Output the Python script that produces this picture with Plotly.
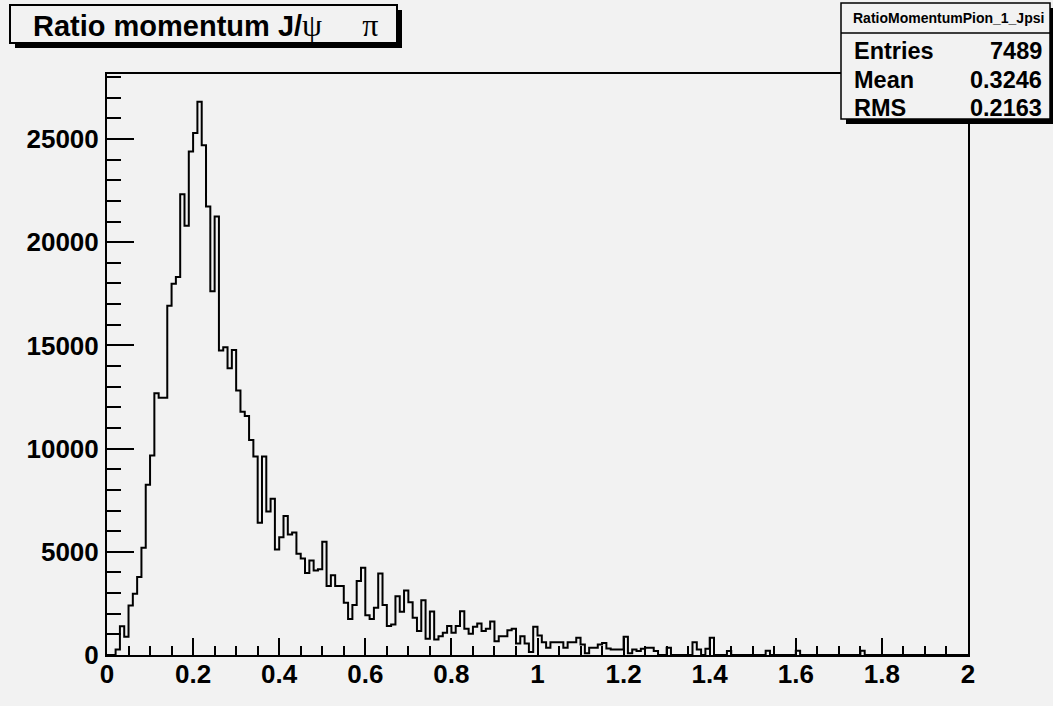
import numpy as np
import plotly.graph_objects as go

# ---------------- data ----------------
x_min = 0.0
x_max = 2.0
n_bins = 200
counts = [
    0, 0, 270, 1390, 890, 2400, 2970, 3780, 5200, 8250,
    9670, 12680, 12470, 12470, 16920, 17990, 18310, 22320, 20800, 24400,
    25290, 26800, 24700, 21730, 17630, 21250, 14750, 14910, 13890, 14780,
    12820, 11790, 11580, 10420, 9620, 6410, 9620, 6950, 7570, 5110,
    5700, 6730, 5840, 5930, 4900, 4670, 3970, 4580, 4100, 4150,
    5490, 3340, 3870, 3340, 3340, 2530, 1750, 2420, 3580, 4230,
    1930, 1750, 2290, 3950, 2420, 1400, 1480, 2850, 2090, 3130,
    2560, 1800, 1160, 2650, 785, 2110, 750, 910, 1075, 1400,
    1075, 1400, 2120, 1270, 1030, 1370, 1530, 1160, 1270, 1620,
    670, 910, 910, 1200, 1270, 560, 910, 560, 150, 1365,
    945, 620, 350, 620, 620, 620, 350, 620, 620, 830,
    510, 80, 350, 350, 510, 580, 320, 270, 270, 270,
    880, 80, 270, 190, 300, 350, 350, 190, 0, 0,
    350, 0, 0, 0, 0, 0, 620, 270, 0, 300,
    830, 0, 0, 0, 190, 0, 0, 0, 0, 0,
    0, 0, 0, 200, 0, 0, 0, 0, 0, 0,
    200, 0, 0, 0, 0, 0, 0, 0, 0, 0,
    0, 0, 0, 0, 0, 200, 0, 0, 0, 0,
    0, 0, 0, 0, 0, 0, 0, 0, 0, 0,
    0, 0, 0, 0, 0, 0, 0, 0, 0, 0,
]
x_tick_vals = [0, 0.2, 0.4, 0.6, 0.8, 1.0, 1.2, 1.4, 1.6, 1.8, 2.0]
x_tick_text = ["0", "0.2", "0.4", "0.6", "0.8", "1", "1.2", "1.4", "1.6", "1.8", "2"]
y_tick_vals = [0, 5000, 10000, 15000, 20000, 25000]
y_tick_text = ["0", "5000", "10000", "15000", "20000", "25000"]
y_max = 28150

title_text = "Ratio momentum J/"
title_greek = ["ψ", "π"]
stats_name = "RatioMomentumPion_1_Jpsi"
stats_labels = ["Entries", "Mean", "RMS"]
stats_values = ["7489", "0.3246", "0.2163"]

# ---------------- figure ----------------
BG = "#f2f2f2"
W, H = 1053, 706
L, R, T, B = 107, 968, 74, 655.5
SANS = "Liberation Sans, Arial, sans-serif"

def px(xp):
    return (xp - L) / (R - L)

def py(yp):
    return (B - yp) / (B - T)

edges = np.linspace(x_min, x_max, n_bins + 1)
xs = list(edges)
ys = list(counts) + [counts[-1]]

fig = go.Figure()
fig.add_trace(go.Scatter(x=xs, y=ys, mode="lines", line_shape="hv",
                         line=dict(color="black", width=2), hoverinfo="skip"))

tickfont = dict(family=SANS, size=26, color="black", weight="bold")

fig.update_layout(
    width=W, height=H,
    margin=dict(l=L, r=W - R, t=T, b=H - B, pad=0),
    paper_bgcolor=BG, plot_bgcolor=BG,
    showlegend=False,
)
fig.update_xaxes(
    range=[x_min, x_max], tickmode="array", tickvals=x_tick_vals, ticktext=x_tick_text,
    ticks="inside", ticklen=17, tickwidth=1.5, tickcolor="black",
    minor=dict(tickmode="linear", tick0=0, dtick=0.05, ticks="inside", ticklen=9,
               tickwidth=1.5, tickcolor="black", showgrid=False),
    showline=True, linewidth=2, linecolor="black", mirror=True,
    showgrid=False, zeroline=False, tickfont=tickfont, ticklabelstandoff=-5,
)
fig.update_yaxes(
    range=[0, y_max], tickmode="array", tickvals=y_tick_vals, ticktext=y_tick_text,
    ticks="inside", ticklen=27, tickwidth=1.5, tickcolor="black",
    minor=dict(tickmode="linear", tick0=0, dtick=1000, ticks="inside", ticklen=14,
               tickwidth=1.5, tickcolor="black", showgrid=False),
    showline=True, linewidth=2, linecolor="black", mirror=True,
    showgrid=False, zeroline=False, tickfont=tickfont, ticklabelstandoff=1,
)

shapes = []
# title box with shadow
shapes.append(dict(type="rect", xref="paper", yref="paper",
                   x0=px(15), x1=px(402), y0=py(48), y1=py(10),
                   fillcolor="black", line=dict(width=0)))
shapes.append(dict(type="rect", xref="paper", yref="paper",
                   x0=px(10), x1=px(397), y0=py(43), y1=py(5),
                   fillcolor=BG, line=dict(color="black", width=2)))
# stats box with shadow
shapes.append(dict(type="rect", xref="paper", yref="paper",
                   x0=px(846), x1=px(1056), y0=py(124), y1=py(8),
                   fillcolor="black", line=dict(width=0)))
shapes.append(dict(type="rect", xref="paper", yref="paper",
                   x0=px(841), x1=px(1050), y0=py(119), y1=py(3),
                   fillcolor=BG, line=dict(color="black", width=1.5)))
shapes.append(dict(type="line", xref="paper", yref="paper",
                   x0=px(841), x1=px(1050), y0=py(33), y1=py(33),
                   line=dict(color="black", width=1.5)))
fig.update_layout(shapes=shapes)

ann = []
greek = "\u00a0\u00a0\u00a0\u00a0\u00a0".join(title_greek)
ann.append(dict(xref="paper", yref="paper", x=px(31), y=py(25), xanchor="left", yanchor="middle",
                showarrow=False,
                text=title_text + "<span style='font-family:Liberation Serif;font-weight:normal;font-size:32px'>" + greek + "</span>",
                font=dict(family=SANS, size=29, color="black", weight="bold")))
ann.append(dict(xref="paper", yref="paper", x=px(948), y=py(18), xanchor="center", yanchor="middle",
                showarrow=False, text=stats_name,
                font=dict(family=SANS, size=14, color="black", weight="bold")))
row_y = [51, 80, 108]
for lab, val, yy in zip(stats_labels, stats_values, row_y):
    ann.append(dict(xref="paper", yref="paper", x=px(852), y=py(yy), xanchor="left", yanchor="middle",
                    showarrow=False, text=lab,
                    font=dict(family=SANS, size=23.5, color="black", weight="bold")))
    ann.append(dict(xref="paper", yref="paper", x=px(1044), y=py(yy), xanchor="right", yanchor="middle",
                    showarrow=False, text=val,
                    font=dict(family=SANS, size=23.5, color="black", weight="bold")))
fig.update_layout(annotations=ann)

fig.write_html("out.html")
